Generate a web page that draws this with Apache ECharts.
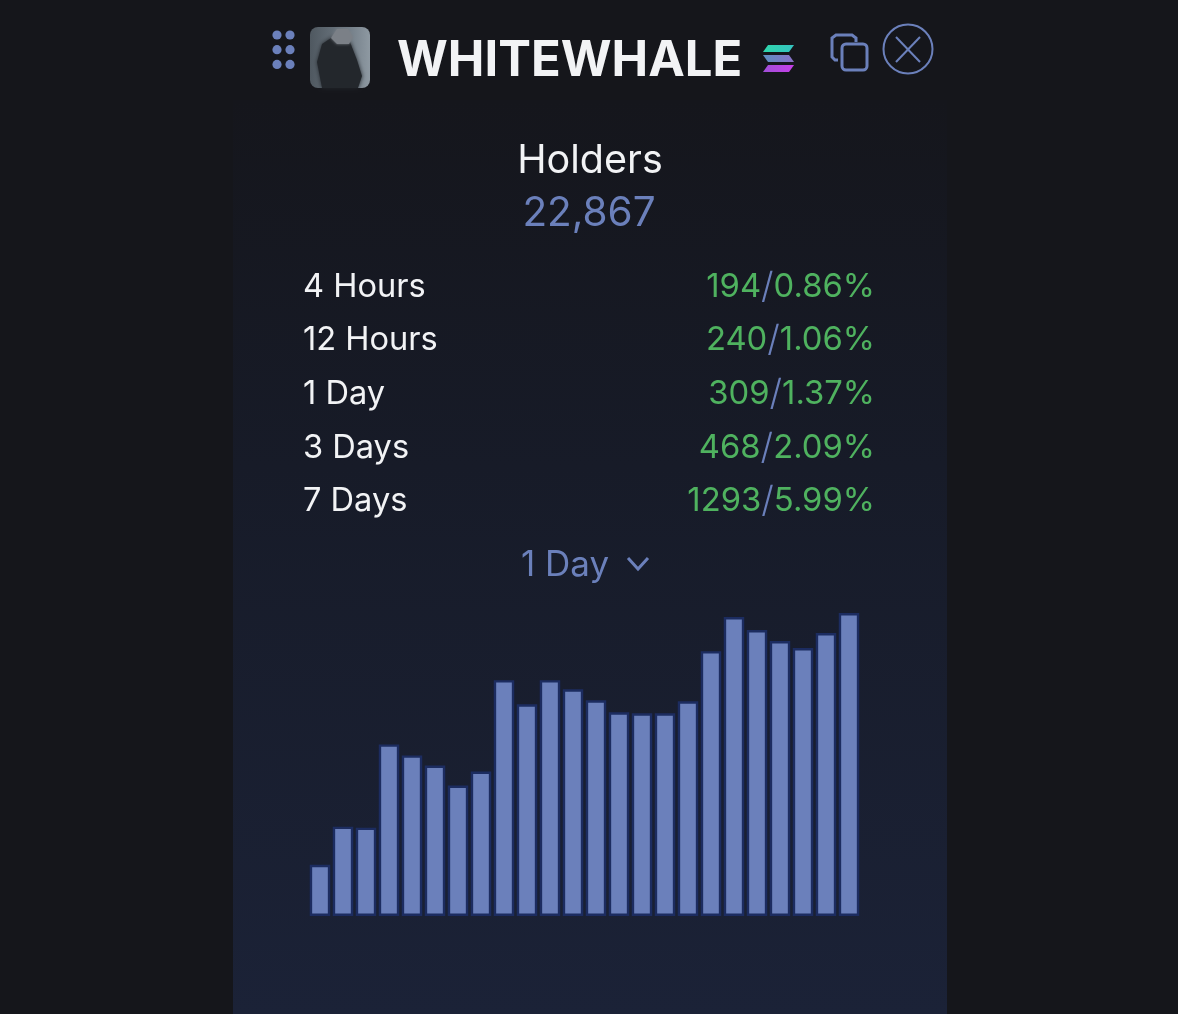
<!DOCTYPE html>
<html>
<head>
<meta charset="utf-8">
<script src="https://cdn.jsdelivr.net/npm/echarts@6/dist/echarts.min.js"></script>
<style>
html, body { margin: 0; padding: 0; background: #15161b; }
#main { width: 1178px; height: 1014px; }
</style>
</head>
<body>
<div id="main"></div>
<script>
var tokenName = 'WHITEWHALE';
var panelTitle = 'Holders';
var holderCount = '22,867';
var selectedRange = '1 Day';

var rangeLabels = ['4 Hours', '12 Hours', '1 Day', '3 Days', '7 Days'];
var rangeCounts = ['194', '240', '309', '468', '1293'];
var rangePercents = ['0.86%', '1.06%', '1.37%', '2.09%', '5.99%'];

// no axis in the picture, so values are read as relative bar heights
var barSlots = ['1', '2', '3', '4', '5', '6', '7', '8', '9', '10', '11', '12',
    '13', '14', '15', '16', '17', '18', '19', '20', '21', '22', '23', '24'];
var barValues = [51, 89, 88, 171, 160, 150, 130, 144, 235, 211, 235, 226,
    215, 203, 202, 202, 214, 264, 298, 285, 274, 267, 282, 302];

var font = 'Inter';
var blue = '#6b80bb';
var green = '#4fb25f';
var white = '#f2f3f5';

var graphics = [];

// panel background
graphics.push({
    type: 'rect', z: 0, silent: true,
    shape: { x: 233, y: 100, width: 714, height: 914 },
    style: {
        fill: new echarts.graphic.LinearGradient(0, 0, 0, 1, [
            { offset: 0, color: '#15161c' },
            { offset: 0.4, color: '#171b28' },
            { offset: 1, color: '#1b2237' }
        ])
    }
});

// drag handle dots
[0, 1].forEach(function (col) {
    [0, 1, 2].forEach(function (row) {
        graphics.push({
            type: 'circle', z: 2,
            shape: { cx: 277 + col * 13, cy: 35 + row * 14.7, r: 4.6 },
            style: { fill: blue }
        });
    });
});

// avatar
graphics.push({
    type: 'rect', z: 2,
    shape: { x: 310, y: 27, width: 60, height: 61, r: 8 },
    style: {
        fill: new echarts.graphic.LinearGradient(0, 0, 1, 0, [
            { offset: 0, color: '#4f5860' },
            { offset: 0.6, color: '#6f7a84' },
            { offset: 1, color: '#8e99a2' }
        ])
    }
});
graphics.push({
    type: 'polygon', z: 3,
    shape: { points: [[322, 88], [317, 62], [322, 44], [334, 36], [350, 42], [357, 60], [362, 76], [358, 88]] },
    style: { fill: '#23272c', shadowBlur: 4, shadowColor: '#23272c' }
});
graphics.push({
    type: 'polygon', z: 4,
    shape: { points: [[331, 38], [337, 29], [348, 29], [353, 37], [349, 44], [337, 44]] },
    style: { fill: '#7b8087', shadowBlur: 3, shadowColor: '#7b8087' }
});

// title
graphics.push({
    type: 'text', z: 2,
    style: { x: 397, y: 61, text: tokenName, font: '700 49px ' + font, fill: white, align: 'left', verticalAlign: 'middle' }
});

// solana mark
[['#2fd6ab', '#35c3c0', 45], ['#5c8fc0', '#8a70c8', 55], ['#a04fd8', '#c63fe8', 65]].forEach(function (c, i) {
    var y = c[2];
    var pts = i === 1
        ? [[763, y], [789, y], [794, y + 7], [768, y + 7]]
        : [[768, y], [794, y], [789, y + 7], [763, y + 7]];
    graphics.push({
        type: 'polygon', z: 2,
        shape: { points: pts },
        style: { fill: new echarts.graphic.LinearGradient(0, 0, 1, 0, [{ offset: 0, color: c[0] }, { offset: 1, color: c[1] }]) }
    });
});

// copy icon
graphics.push({
    type: 'rect', z: 2,
    shape: { x: 842, y: 44, width: 25, height: 26, r: 4 },
    style: { fill: 'none', stroke: blue, lineWidth: 3 }
});
graphics.push({
    type: 'polyline', z: 2,
    shape: { points: [[838, 60], [835, 60], [832, 57], [832, 38], [836, 35], [852, 35], [856, 38], [856, 42]] },
    style: { fill: 'none', stroke: blue, lineWidth: 3 }
});

// close icon
graphics.push({
    type: 'ellipse', z: 2,
    shape: { cx: 908, cy: 49, rx: 24.5, ry: 24.5 },
    style: { fill: 'none', stroke: blue, lineWidth: 2 }
});
graphics.push({ type: 'line', z: 2, shape: { x1: 896, y1: 37, x2: 920, y2: 62 }, style: { stroke: blue, lineWidth: 2 } });
graphics.push({ type: 'line', z: 2, shape: { x1: 920, y1: 37, x2: 896, y2: 62 }, style: { stroke: blue, lineWidth: 2 } });

// headline
graphics.push({
    type: 'text', z: 2,
    style: { x: 590, y: 161, text: panelTitle, font: '400 39.5px ' + font, fill: white, align: 'center', verticalAlign: 'middle' }
});
graphics.push({
    type: 'text', z: 2,
    style: { x: 589, y: 214, text: holderCount, font: '400 40.5px ' + font, fill: blue, align: 'center', verticalAlign: 'middle' }
});

// stat rows
rangeLabels.forEach(function (label, i) {
    var y = 287 + i * 53.6;
    graphics.push({
        type: 'text', z: 2,
        style: { x: 303, y: y, text: label, font: '400 32.6px ' + font, fill: white, align: 'left', verticalAlign: 'middle' }
    });
    graphics.push({
        type: 'text', z: 2,
        style: {
            x: 875, y: y,
            text: '{g|' + rangeCounts[i] + '}{s|/}{g|' + rangePercents[i] + '}',
            align: 'right', verticalAlign: 'middle',
            rich: {
                g: { font: '400 32.8px ' + font, fill: green },
                s: { font: '300 36px ' + font, fill: blue }
            }
        }
    });
});

// range selector
graphics.push({
    type: 'text', z: 2,
    style: { x: 521, y: 565, text: selectedRange, font: '400 35px ' + font, fill: blue, align: 'left', verticalAlign: 'middle' }
});
graphics.push({
    type: 'polyline', z: 2,
    shape: { points: [[628, 558], [638, 569], [648, 558]] },
    style: { fill: 'none', stroke: blue, lineWidth: 3 }
});

var chart = echarts.init(document.getElementById('main'), null, { renderer: 'canvas' });
chart.setOption({
    backgroundColor: '#15161b',
    animation: false,
    graphic: { elements: graphics },
    grid: { left: 308.5, top: 613, width: 552, height: 303 },
    xAxis: { type: 'category', data: barSlots, show: false },
    yAxis: { type: 'value', min: 0, max: 302, show: false },
    series: [{
        type: 'bar',
        data: barValues,
        z: 5,
        barWidth: '89%',
        itemStyle: { color: '#6b80bb', borderColor: '#1c2c60', borderWidth: 2.4 }
    }]
});
</script>
</body>
</html>
